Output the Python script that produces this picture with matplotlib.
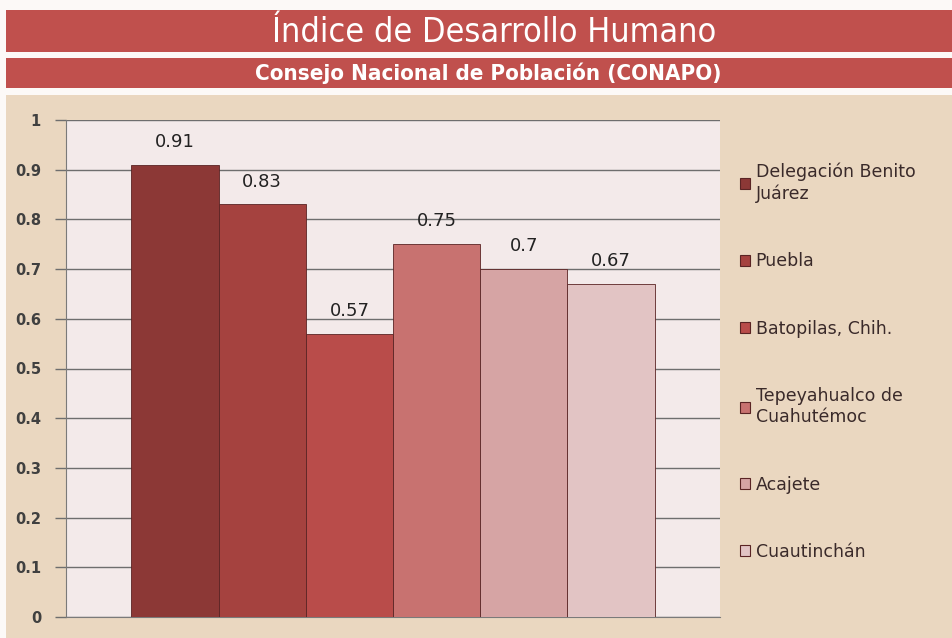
import matplotlib
matplotlib.use("Agg")
import matplotlib.pyplot as plt
from matplotlib.patches import Rectangle, Patch
import numpy as np

categories = ["Delegación Benito\nJuárez", "Puebla", "Batopilas, Chih.",
              "Tepeyahualco de\nCuahutémoc", "Acajete", "Cuautinchán"]
values = [0.91, 0.83, 0.57, 0.75, 0.70, 0.67]
value_labels = ["0.91", "0.83", "0.57", "0.75", "0.7", "0.67"]
colors = ["#8c3836", "#a5423f", "#b94c4a", "#c87270", "#d6a4a4", "#e2c4c4"]
yticks = [0, 0.1, 0.2, 0.3, 0.4, 0.5, 0.6, 0.7, 0.8, 0.9, 1]
ytick_labels = ["0", "0.1", "0.2", "0.3", "0.4", "0.5", "0.6", "0.7", "0.8", "0.9", "1"]
title = "Índice de Desarrollo Humano"
subtitle = "Consejo Nacional de Población (CONAPO)"

W, H = 952, 638
fig = plt.figure(figsize=(W / 100, H / 100), dpi=100, facecolor="#fcf9f7")

def fx(px):
    return px / W

def fy(py):
    return 1 - py / H

bg = fig.add_axes([0, 0, 1, 1], zorder=-10)
bg.set_xlim(0, W)
bg.set_ylim(H, 0)
bg.axis("off")
bg.add_patch(Rectangle((6, 10), W, 42, facecolor="#c0504d", edgecolor="none"))
bg.add_patch(Rectangle((6, 58), W, 30, facecolor="#c0504d", edgecolor="none"))
bg.add_patch(Rectangle((6, 95), W, H, facecolor="#ead7c0", edgecolor="none"))

fig.text(fx(494), fy(32), title, ha="center", va="center", color="white",
         fontsize=24.5, family="DejaVu Sans", fontstretch="condensed")
fig.text(fx(488), fy(73), subtitle, ha="center", va="center", color="white",
         fontsize=16, family="DejaVu Sans", fontstretch="condensed", fontweight="bold")

ax = fig.add_axes([fx(66), fy(617), fx(720) - fx(66), fy(120) - fy(617)])
ax.set_facecolor("#f3eaea")
n = len(values)
bw = 0.8 / n
xs = -0.4 + bw / 2 + np.arange(n) * bw
bars = ax.bar(xs, values, width=bw, color=colors, edgecolor="#5a2424", linewidth=0.6, zorder=3)
for x, v, lab in zip(xs, values, value_labels):
    ax.text(x, v + 0.028, lab, ha="center", va="bottom", fontsize=13, color="#222222", zorder=4)

ax.set_xlim(-0.5, 0.5)
ax.set_ylim(0, 1)
ax.set_yticks(yticks)
ax.set_yticklabels(ytick_labels, fontsize=10.5, fontweight="bold", color="#404040")
ax.yaxis.grid(True, color="#6e6e6e", linewidth=1.0, zorder=1)
ax.tick_params(axis="y", length=8, width=1.0, color="#6e6e6e", pad=10)
ax.set_xticks([])
for s in ["top", "right"]:
    ax.spines[s].set_visible(False)
ax.spines["left"].set_color("#7a7a7a")
ax.spines["bottom"].set_color("#7a7a7a")

handles = [Patch(facecolor=c, edgecolor="#5a2424", linewidth=0.8) for c in colors]
leg = fig.legend(handles, categories, loc="upper left", bbox_to_anchor=(fx(733), fy(156)),
                 frameon=False, fontsize=12.5, labelspacing=2.85, handlelength=0.6,
                 handleheight=0.6, handletextpad=0.3, borderaxespad=0)
for t in leg.get_texts():
    t.set_color("#3a2a2a")

fig.savefig("out.png", dpi=100, facecolor=fig.get_facecolor())
